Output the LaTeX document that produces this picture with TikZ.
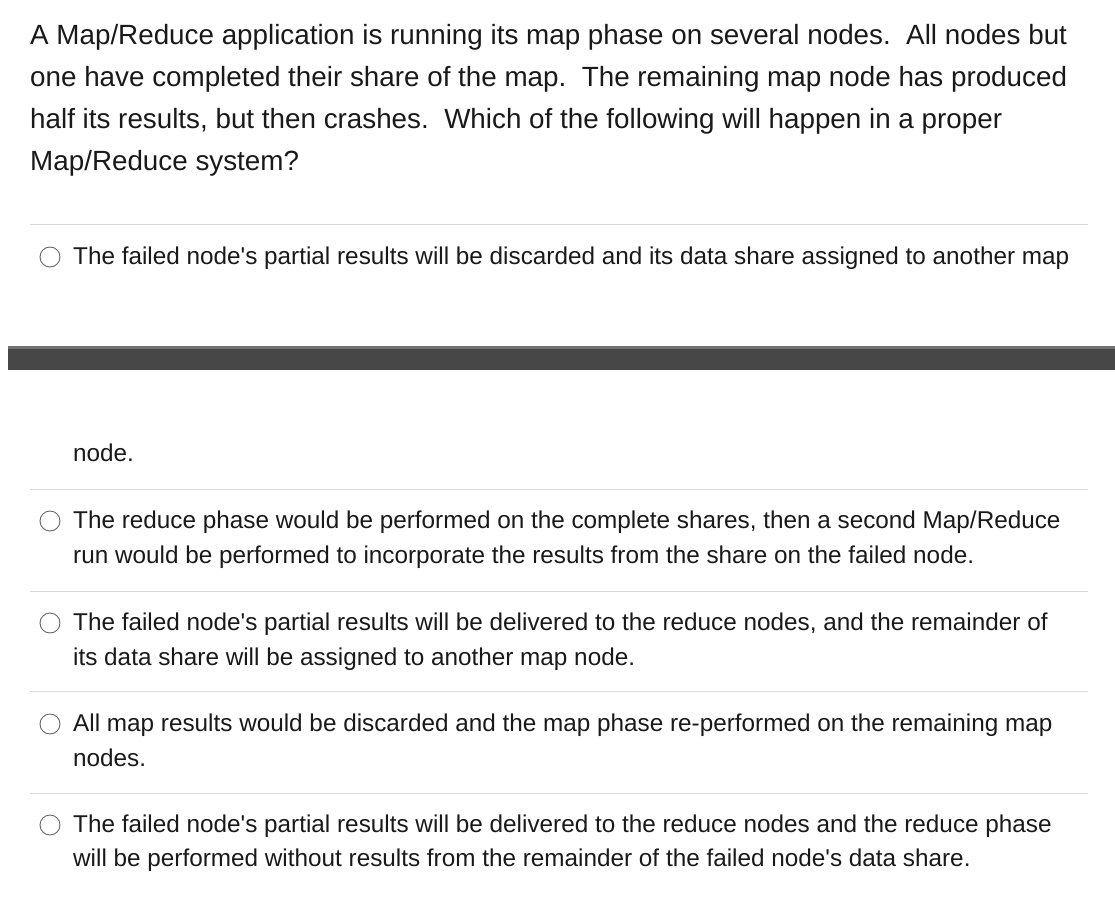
\documentclass[tikz,border=0pt]{standalone}
\usepackage{fontspec}
\newfontfamily\arial{Liberation Sans}
\begin{document}
\begin{tikzpicture}[x=1pt,y=-1pt,
  q/.style={anchor=base west,inner sep=0pt,font=\arial\fontsize{27.8}{32}\selectfont,text=black!90},
  opt/.style={anchor=base west,inner sep=0pt,font=\arial\fontsize{24.3}{28}\selectfont,text=black!90},
  sep/.style={draw=black!15,line width=1pt},
  radio/.style={circle,draw=black!60,line width=0.9pt,minimum size=20pt,inner sep=0pt}]
\useasboundingbox (0,0) rectangle (1115,909);
\node[q] (q1) at (30,45) {A Map/Reduce application is running its map phase on several nodes.\ \ All nodes but};
\node[q] (q2) at (30,87) {one have completed their share of the map.\ \ The remaining map node has produced};
\node[q] (q3) at (30,129) {half its results, but then crashes.\ \ Which of the following will happen in a proper};
\node[q] (q4) at (30,171) {Map/Reduce system?};
\draw[sep] (30,225) -- (1088,225);
\node[radio] (r1) at (50,257) {};
\node[opt] (o1) at (73,264) {The failed node's partial results will be discarded and its data share assigned to another map};
\fill[black!72] (8,346) rectangle (1115,370);
\fill[black!55] (8,346) rectangle (1115,349);
\node[opt] (o1b) at (73,461) {node.};
\draw[sep] (30,489) -- (1088,489);
\node[radio] (r2) at (50,521) {};
\node[opt] (o2) at (73,528) {The reduce phase would be performed on the complete shares, then a second Map/Reduce};
\node[opt] (o2b) at (73,563) {run would be performed to incorporate the results from the share on the failed node.};
\draw[sep] (30,591) -- (1088,591);
\node[radio] (r3) at (50,623) {};
\node[opt] (o3) at (73,630) {The failed node's partial results will be delivered to the reduce nodes, and the remainder of};
\node[opt] (o3b) at (73,665) {its data share will be assigned to another map node.};
\draw[sep] (30,691) -- (1088,691);
\node[radio] (r4) at (50,724) {};
\node[opt] (o4) at (73,731) {All map results would be discarded and the map phase re-performed on the remaining map};
\node[opt] (o4b) at (73,766) {nodes.};
\draw[sep] (30,793) -- (1088,793);
\node[radio] (r5) at (50,825) {};
\node[opt] (o5) at (73,832) {The failed node's partial results will be delivered to the reduce nodes and the reduce phase};
\node[opt] (o5b) at (73,866) {will be performed without results from the remainder of the failed node's data share.};
\end{tikzpicture}
\end{document}
